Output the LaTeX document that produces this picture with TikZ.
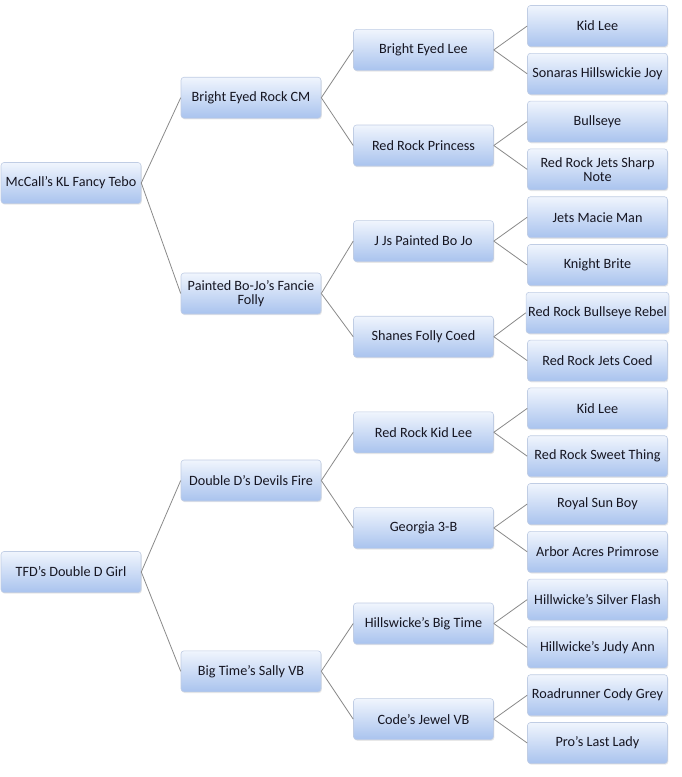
\documentclass[tikz,border=0pt]{standalone}
\usepackage{fontspec}
\setmainfont{Carlito}
\usetikzlibrary{shadows}
\definecolor{boxtop}{HTML}{F0F5FD}
\definecolor{boxbot}{HTML}{A9C3EE}
\definecolor{boxline}{HTML}{C0CDE4}
\definecolor{linkgray}{HTML}{8A8A8A}
\definecolor{txt}{HTML}{161622}
\tikzset{
  horse/.style={draw=boxline, line width=0.6pt, rounded corners=3pt,
    top color=boxtop, bottom color=boxbot,
    minimum width=140pt, minimum height=41pt, inner sep=2pt,
    align=center, text=txt, font=\fontsize{14.2}{14.5}\selectfont,
    drop shadow={shadow xshift=0.8pt, shadow yshift=-1.2pt, opacity=0.18}},
  link/.style={draw=linkgray, line width=0.8pt}
}
\begin{document}
\begin{tikzpicture}[x=1pt,y=-1pt]
   \useasboundingbox (0,0) rectangle (681,777);

   % sires and dams
   \node[horse] (r1) at (71,183) {McCall’s KL Fancy Tebo};
   \node[horse] (r2) at (71,572) {TFD’s Double D Girl};

   % parents
   \node[horse] (p1) at (251,97.7) {Bright Eyed Rock CM};
   \node[horse] (p2) at (251,293.5) {Painted Bo-Jo’s Fancie\\Folly};
   \node[horse] (p3) at (251,480.5) {Double D’s Devils Fire};
   \node[horse] (p4) at (251,671.3) {Big Time’s Sally VB};

   % grandparents
   \node[horse] (g1) at (423.5,49.9) {Bright Eyed Lee};
   \node[horse] (g2) at (423.5,145.5) {Red Rock Princess};
   \node[horse] (g3) at (423.5,241.1) {J Js Painted Bo Jo};
   \node[horse] (g4) at (423.5,336.7) {Shanes Folly Coed};
   \node[horse] (g5) at (423.5,432.3) {Red Rock Kid Lee};
   \node[horse] (g6) at (423.5,527.9) {Georgia 3-B};
   \node[horse] (g7) at (423.5,623.5) {Hillswicke’s Big Time};
   \node[horse] (g8) at (423.5,719.1) {Code’s Jewel VB};

   % great grandparents
   \node[horse] (gg1) at (597.5,26) {Kid Lee};
   \node[horse] (gg2) at (597.5,73.8) {Sonaras Hillswickie Joy};
   \node[horse] (gg3) at (597.5,121.6) {Bullseye};
   \node[horse] (gg4) at (597.5,169.4) {Red Rock Jets Sharp\\Note};
   \node[horse] (gg5) at (597.5,217.2) {Jets Macie Man};
   \node[horse] (gg6) at (597.5,265) {Knight Brite};
   \node[horse] (gg7) at (597.5,312.8) {Red Rock Bullseye Rebel};
   \node[horse] (gg8) at (597.5,360.6) {Red Rock Jets Coed};
   \node[horse] (gg9) at (597.5,408.4) {Kid Lee};
   \node[horse] (gg10) at (597.5,456.2) {Red Rock Sweet Thing};
   \node[horse] (gg11) at (597.5,504) {Royal Sun Boy};
   \node[horse] (gg12) at (597.5,551.8) {Arbor Acres Primrose};
   \node[horse] (gg13) at (597.5,599.6) {Hillwicke’s Silver Flash};
   \node[horse] (gg14) at (597.5,647.4) {Hillwicke’s Judy Ann};
   \node[horse] (gg15) at (597.5,695.2) {Roadrunner Cody Grey};
   \node[horse] (gg16) at (597.5,743) {Pro’s Last Lady};

   % links
   \draw[link] (r1.east) -- (p1.west);
   \draw[link] (r1.east) -- (p2.west);
   \draw[link] (r2.east) -- (p3.west);
   \draw[link] (r2.east) -- (p4.west);

   \draw[link] (p1.east) -- (g1.west);
   \draw[link] (p1.east) -- (g2.west);
   \draw[link] (p2.east) -- (g3.west);
   \draw[link] (p2.east) -- (g4.west);
   \draw[link] (p3.east) -- (g5.west);
   \draw[link] (p3.east) -- (g6.west);
   \draw[link] (p4.east) -- (g7.west);
   \draw[link] (p4.east) -- (g8.west);

   \draw[link] (g1.east) -- (gg1.west);
   \draw[link] (g1.east) -- (gg2.west);
   \draw[link] (g2.east) -- (gg3.west);
   \draw[link] (g2.east) -- (gg4.west);
   \draw[link] (g3.east) -- (gg5.west);
   \draw[link] (g3.east) -- (gg6.west);
   \draw[link] (g4.east) -- (gg7.west);
   \draw[link] (g4.east) -- (gg8.west);
   \draw[link] (g5.east) -- (gg9.west);
   \draw[link] (g5.east) -- (gg10.west);
   \draw[link] (g6.east) -- (gg11.west);
   \draw[link] (g6.east) -- (gg12.west);
   \draw[link] (g7.east) -- (gg13.west);
   \draw[link] (g7.east) -- (gg14.west);
   \draw[link] (g8.east) -- (gg15.west);
   \draw[link] (g8.east) -- (gg16.west);
\end{tikzpicture}
\end{document}
